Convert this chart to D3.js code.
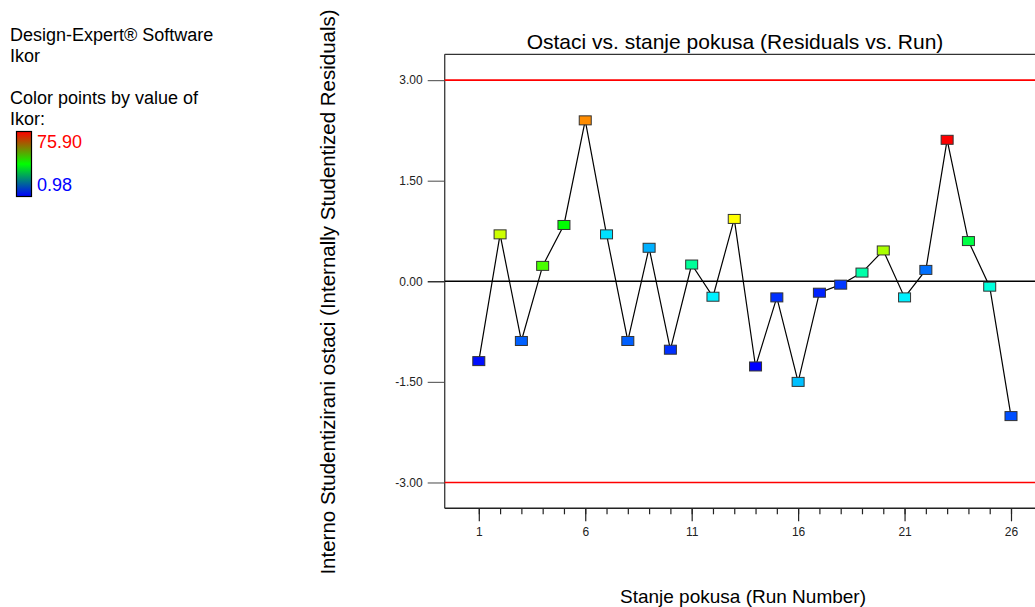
<!DOCTYPE html>
<html>
<head>
<meta charset="utf-8">
<script src="https://cdn.jsdelivr.net/npm/d3@7"></script>
<style>
  html, body { margin: 0; padding: 0; background: #fff; }
  svg { display: block; font-family: "Liberation Sans", Arial, sans-serif; }
</style>
</head>
<body>
<svg id="chart" width="1035" height="607"></svg>
<script>
// ---- data ----
const runs = d3.range(1, 27);
const residuals = [-1.19, 0.70, -0.89, 0.23, 0.84, 2.40, 0.70, -0.89, 0.50, -1.02,
                   0.25, -0.23, 0.93, -1.27, -0.24, -1.50, -0.17, -0.05, 0.13, 0.46,
                   -0.24, 0.17, 2.11, 0.60, -0.08, -2.01];
const ikor = [2.0, 53.4, 8.0, 43.8, 38.4, 65.6, 17.4, 8.0, 13.9, 4.5,
              27.2, 18.6, 57.2, 0.98, 4.5, 15.1, 3.5, 5.0, 26.0, 50.9,
              18.6, 9.2, 75.90, 33.4, 22.2, 6.8];
const xMajorTicks = [1, 6, 11, 16, 21, 26];
const yTicks = [-3.00, -1.50, 0.00, 1.50, 3.00];
const limits = [-3.00, 3.00];
const ikorRange = [0.98, 75.90];
const titleText = "Ostaci vs. stanje pokusa (Residuals vs. Run)";
const xLabelText = "Stanje pokusa (Run Number)";
const yLabelText = "Interno Studentizirani ostaci (Internally Studentized Residuals)";
const legendLines = ["Design-Expert® Software", "Ikor"];
const legendLines2 = ["Color points by value of", "Ikor:"];

// ---- layout ----
const plotLeft = 444.7, plotRight = 1040, plotTop = 54.3, plotBottom = 508.3;
const svg = d3.select("#chart");

const x = d3.scaleLinear().domain([1, 26]).range([478.8, 1011]);
const y = d3.scaleLinear().domain([-3.385, 3.385]).range([plotBottom, plotTop]);
const hueScale = d3.scaleLinear().domain(ikorRange).range([240, 0]);
const color = v => d3.hsl(hueScale(v), 1, 0.5).formatHex();

// ---- legend ----
const leg = svg.append("g").attr("font-size", 18).attr("fill", "#000");
legendLines.forEach((t, i) => leg.append("text").attr("x", 10).attr("y", 41 + i * 20.5).text(t));
legendLines2.forEach((t, i) => leg.append("text").attr("x", 10).attr("y", 104 + i * 21).text(t));

const defs = svg.append("defs");
const grad = defs.append("linearGradient").attr("id", "cbar")
  .attr("x1", 0).attr("y1", 0).attr("x2", 0).attr("y2", 1);
grad.append("stop").attr("offset", "0%").attr("stop-color", "#ff0000");
grad.append("stop").attr("offset", "50%").attr("stop-color", "#00ff00");
grad.append("stop").attr("offset", "100%").attr("stop-color", "#0000ff");
svg.append("rect").attr("x", 16.5).attr("y", 131.5).attr("width", 15).attr("height", 65)
  .attr("fill", "url(#cbar)").attr("stroke", "#000").attr("stroke-width", 1.2);
svg.append("text").attr("x", 37).attr("y", 148).attr("font-size", 18).attr("fill", "#ff0000")
  .text(ikorRange[1].toFixed(2));
svg.append("text").attr("x", 37).attr("y", 190.5).attr("font-size", 18).attr("fill", "#0000ff")
  .text(ikorRange[0].toFixed(2));

// ---- title & axis labels ----
svg.append("text").attr("x", 735).attr("y", 49).attr("text-anchor", "middle")
  .attr("font-size", 21).text(titleText);
svg.append("text").attr("x", 743).attr("y", 603).attr("text-anchor", "middle")
  .attr("font-size", 19).text(xLabelText);
svg.append("text").attr("transform", "translate(335,292) rotate(-90)")
  .attr("text-anchor", "middle").attr("font-size", 20.5).text(yLabelText);

// ---- frame ----
svg.append("line").attr("x1", plotLeft).attr("x2", plotRight).attr("y1", plotTop).attr("y2", plotTop)
  .attr("stroke", "#000").attr("stroke-width", 1);

// y axis
const yAxis = svg.append("g").attr("transform", `translate(${plotLeft},0)`)
  .call(d3.axisLeft(y).tickValues(yTicks).tickSize(17).tickPadding(5)
    .tickFormat(d => d.toFixed(2)));
yAxis.select(".domain").remove();
yAxis.selectAll(".tick line").attr("stroke", d => d === 0 ? "#000" : "#666").attr("stroke-width", 1.2);
yAxis.selectAll(".tick text").attr("font-size", 12).attr("font-family", "Liberation Sans, Arial, sans-serif").attr("fill", "#222");

// x axis: minor + major ticks
const xMinor = svg.append("g").attr("transform", `translate(0,${plotBottom})`)
  .call(d3.axisBottom(x).tickValues(runs).tickSize(6).tickFormat(""));
xMinor.select(".domain").remove();
xMinor.selectAll(".tick line").attr("stroke", "#222").attr("stroke-width", 1.2);
const xMajor = svg.append("g").attr("transform", `translate(0,${plotBottom})`)
  .call(d3.axisBottom(x).tickValues(xMajorTicks).tickSize(13).tickPadding(6).tickFormat(d3.format("d")));
xMajor.select(".domain").remove();
xMajor.selectAll(".tick line").attr("stroke", "#222").attr("stroke-width", 1.2);
xMajor.selectAll(".tick text").attr("font-size", 12).attr("font-family", "Liberation Sans, Arial, sans-serif").attr("fill", "#222");

svg.append("line").attr("x1", plotLeft).attr("x2", plotLeft).attr("y1", plotTop).attr("y2", plotBottom)
  .attr("stroke", "#444").attr("stroke-width", 1.4);
svg.append("line").attr("x1", plotLeft).attr("x2", plotRight).attr("y1", plotBottom).attr("y2", plotBottom)
  .attr("stroke", "#222").attr("stroke-width", 1.4);

// zero line & limit lines
svg.append("line").attr("x1", plotLeft).attr("x2", plotRight).attr("y1", y(0)).attr("y2", y(0))
  .attr("stroke", "#000").attr("stroke-width", 1.4);
svg.selectAll(".limit").data(limits).enter().append("line").attr("class", "limit")
  .attr("x1", plotLeft).attr("x2", plotRight).attr("y1", d => y(d)).attr("y2", d => y(d))
  .attr("stroke", "#ff0000").attr("stroke-width", 1.6);

// ---- series ----
const pts = runs.map((r, i) => ({ run: r, res: residuals[i], ikor: ikor[i] }));
svg.append("path").datum(pts)
  .attr("d", d3.line().x(d => x(d.run)).y(d => y(d.res)))
  .attr("fill", "none").attr("stroke", "#000").attr("stroke-width", 1.2);
svg.selectAll(".pt").data(pts).enter().append("rect").attr("class", "pt")
  .attr("x", d => x(d.run) - 6).attr("y", d => y(d.res) - 4.5)
  .attr("width", 12).attr("height", 9)
  .attr("fill", d => color(d.ikor)).attr("stroke", "#333").attr("stroke-width", 1);
</script>
</body>
</html>
